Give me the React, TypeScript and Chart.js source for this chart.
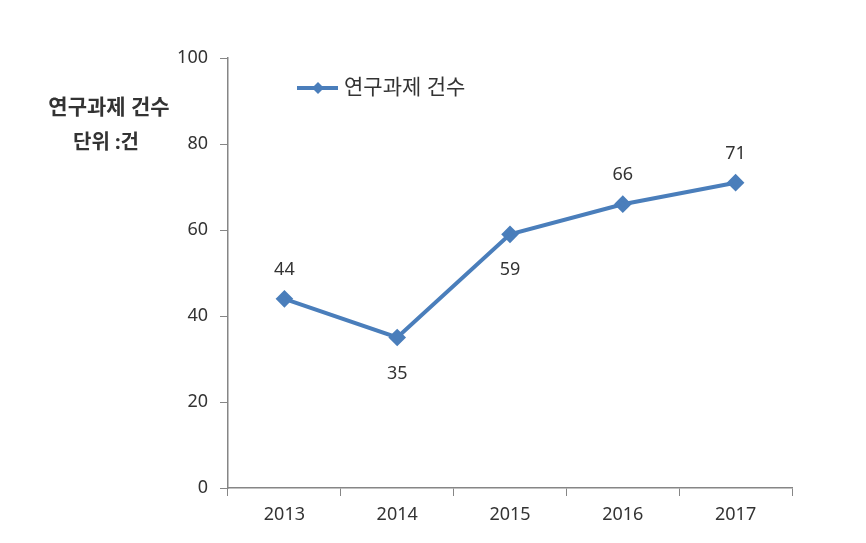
import React, { useEffect, useRef } from "react";
import { Chart, registerables } from "chart.js";

Chart.register(...registerables);

const years = ["2013", "2014", "2015", "2016", "2017"];
const projectCounts = [44, 35, 59, 66, 71];
const labelSides = ["above", "below", "below", "above", "above"];
const seriesName = "연구과제 건수";
const axisTitle = "연구과제 건수";
const unitText = "단위 :건";

const LINE = "#4A7EBB";
const TEXT = "#333333";
const AXIS = "#868686";
const FONT = "'Noto Sans', 'Noto Sans CJK KR', sans-serif";

const overlay = {
  id: "overlay",
  afterDatasetsDraw(chart: any) {
    const ctx = chart.ctx;
    ctx.save();
    ctx.fillStyle = TEXT;
    ctx.textAlign = "center";
    ctx.textBaseline = "middle";
    // axis title
    ctx.font = `bold 21px ${FONT}`;
    ctx.fillText(axisTitle, 109, 108);
    ctx.font = `bold 20px ${FONT}`;
    ctx.fillText(unitText, 106, 143);
    // legend
    ctx.strokeStyle = LINE;
    ctx.lineWidth = 4;
    ctx.beginPath();
    ctx.moveTo(297, 88);
    ctx.lineTo(338, 88);
    ctx.stroke();
    ctx.fillStyle = LINE;
    ctx.beginPath();
    ctx.moveTo(318, 82);
    ctx.lineTo(324, 88);
    ctx.lineTo(318, 94);
    ctx.lineTo(312, 88);
    ctx.closePath();
    ctx.fill();
    ctx.fillStyle = TEXT;
    ctx.textAlign = "left";
    ctx.font = `21px ${FONT}`;
    ctx.fillText(seriesName, 344, 88);
    // data labels
    ctx.textAlign = "center";
    ctx.font = `18px ${FONT}`;
    const meta = chart.getDatasetMeta(0);
    meta.data.forEach((pt: any, i: number) => {
      const dy = labelSides[i] === "above" ? -29 : 36;
      ctx.fillText(String(projectCounts[i]), pt.x, pt.y + dy);
    });
    ctx.restore();
  },
};

export default function App() {
  const ref = useRef<HTMLCanvasElement>(null);
  useEffect(() => {
    const chart = new Chart(ref.current!, {
      type: "line",
      data: {
        labels: years,
        datasets: [
          {
            label: seriesName,
            data: projectCounts,
            borderColor: LINE,
            backgroundColor: LINE,
            borderWidth: 4,
            pointStyle: "rectRot",
            pointRadius: 6,
            pointHoverRadius: 6,
            tension: 0,
          },
        ],
      },
      options: {
        responsive: false,
        animation: false,
        layout: { padding: { left: 0, right: 74, top: 58, bottom: 0 } },
        plugins: { legend: { display: false }, tooltip: { enabled: false } },
        scales: {
          x: {
            offset: true,
            grid: {
              offset: true,
              drawOnChartArea: false,
              drawTicks: true,
              tickLength: 8,
              color: AXIS,
            },
            border: { display: true, color: AXIS, width: 1.5 },
            ticks: { color: TEXT, font: { family: FONT, size: 18 }, padding: 8 },
            afterFit: (s: any) => {
              s.height = 55;
            },
          },
          y: {
            min: 0,
            max: 100,
            ticks: {
              stepSize: 20,
              color: TEXT,
              font: { family: FONT, size: 18 },
              padding: 12,
            },
            grid: {
              drawOnChartArea: false,
              drawTicks: true,
              tickLength: 8,
              color: AXIS,
            },
            border: { display: true, color: AXIS, width: 1.5 },
            afterFit: (s: any) => {
              s.width = 228;
            },
          },
        },
      },
      plugins: [overlay],
    });
    return () => chart.destroy();
  }, []);
  return (
    <div style={{ position: "absolute", left: 0, top: 0, width: 866, height: 543, background: "#fff" }}>
      <canvas ref={ref} width={866} height={543} />
    </div>
  );
}
